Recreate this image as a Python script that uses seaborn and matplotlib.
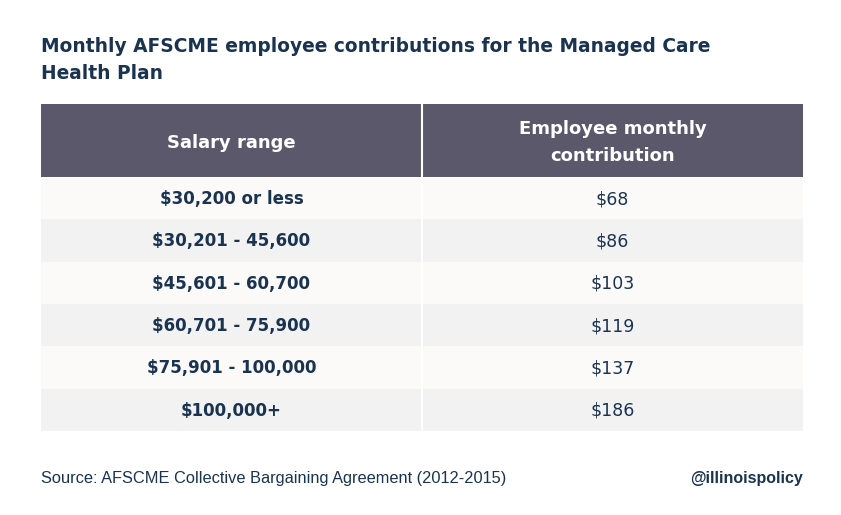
import numpy as np
import matplotlib.pyplot as plt
from matplotlib.colors import ListedColormap
import seaborn as sns

# Table content
title = "Monthly AFSCME employee contributions for the Managed Care\nHealth Plan"
headers = ["Salary range", "Employee monthly\ncontribution"]
salary_ranges = ["$30,200 or less", "$30,201 - 45,600", "$45,601 - 60,700",
                 "$60,701 - 75,900", "$75,901 - 100,000", "$100,000+"]
contributions = [68, 86, 103, 119, 137, 186]
source = "Source: AFSCME Collective Bargaining Agreement (2012-2015)"
handle = "@illinoispolicy"

NAVY = "#1a3350"
HEADER = "#5c586c"
ROW_A = "#fbfaf9"
ROW_B = "#f2f2f2"

sns.set_theme(style="white")
plt.rcParams['font.family'] = ['DejaVu Sans']

W, H = 841, 515
fig = plt.figure(figsize=(W / 100, H / 100), dpi=100)
fig.patch.set_facecolor("white")

def fig_box(x0, y0, x1, y1):
    # pixel box (top-left origin) -> figure fraction rect
    return [x0 / W, 1 - y1 / H, (x1 - x0) / W, (y1 - y0) / H]

left, right = 41, 803
head_top, head_bot, body_bot = 104, 177, 431

# header band
ax_h = fig.add_axes(fig_box(left, head_top, right, head_bot))
sns.heatmap(np.zeros((1, 2)), cmap=ListedColormap([HEADER]), cbar=False,
            xticklabels=False, yticklabels=False, ax=ax_h)
ax_h.axvline(1, color="white", lw=1.5)
for j, h in enumerate(headers):
    ax_h.text(j + 0.5, 0.53, h, ha="center", va="center", color="white",
              fontsize=13, fontweight="bold", linespacing=1.65)

# body rows with alternating stripes
n = len(salary_ranges)
stripes = np.array([[i % 2, i % 2] for i in range(n)])
ax_b = fig.add_axes(fig_box(left, head_bot, right, body_bot))
sns.heatmap(stripes, cmap=ListedColormap([ROW_A, ROW_B]), cbar=False,
            xticklabels=False, yticklabels=False, ax=ax_b)
ax_b.axvline(1, color="white", lw=1.5)
ax_b.axhline(0, color="white", lw=1.5)
for i, (s, c) in enumerate(zip(salary_ranges, contributions)):
    ax_b.text(0.5, i + 0.52, s, ha="center", va="center", color=NAVY,
              fontsize=12, fontweight="bold")
    ax_b.text(1.5, i + 0.52, f"${c}", ha="center", va="center", color=NAVY,
              fontsize=12.5)

fig.text(left / W, 1 - 37 / H, title, ha="left", va="top", color=NAVY,
         fontsize=13.4, fontweight="bold", linespacing=1.55)
fig.text(left / W, 1 - 478 / H, source, ha="left", va="center", color=NAVY,
         fontsize=11.8, family=['Liberation Sans', 'DejaVu Sans'])
fig.text(right / W, 1 - 478 / H, handle, ha="right", va="center", color=NAVY,
         fontsize=11.5, fontweight="bold", family=['Liberation Sans', 'DejaVu Sans'])

fig.savefig("out.png", dpi=100)
plt.close(fig)
